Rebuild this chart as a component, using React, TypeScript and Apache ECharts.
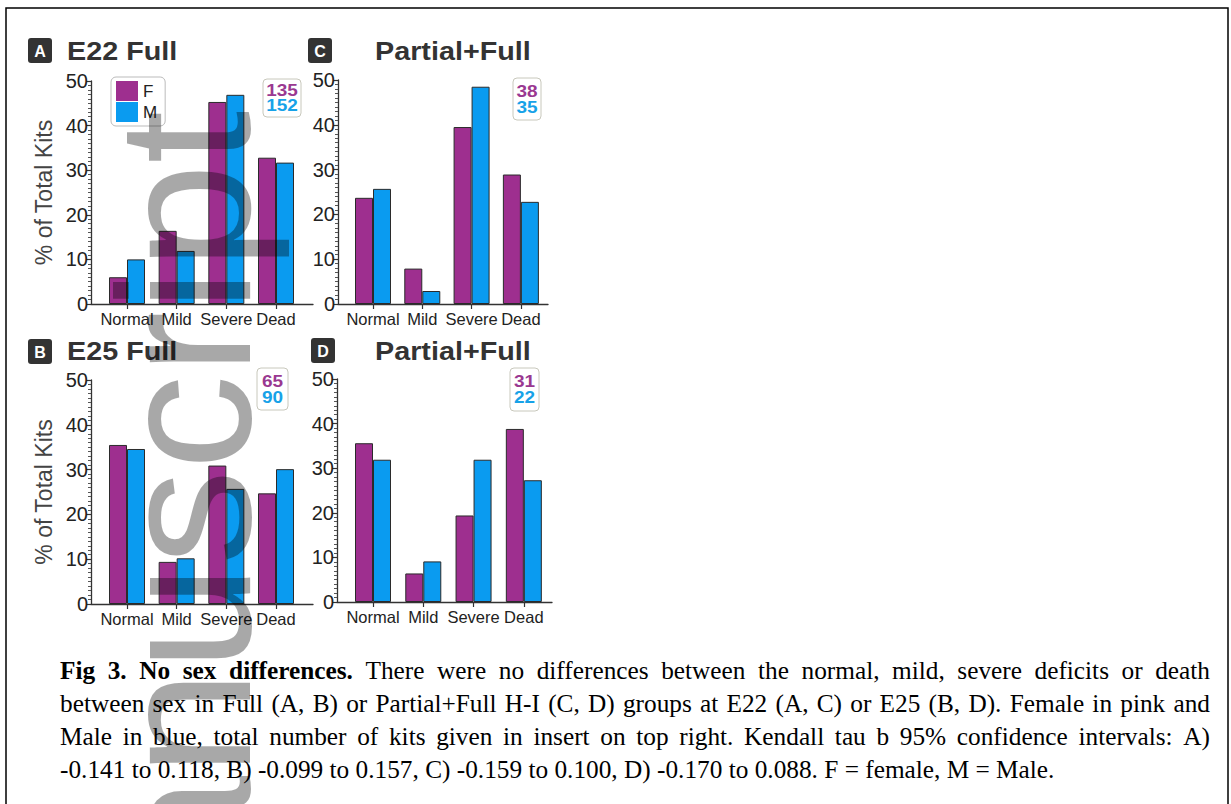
import React, { useEffect, useRef } from "react";
import * as echarts from "echarts";

// ---------- data ----------
const categories = ["Normal", "Mild", "Severe", "Dead"];
const femaleA = [6.0, 16.4, 45.3, 32.8];
const maleA = [10.0, 11.9, 46.9, 31.7];
const femaleB = [35.5, 9.4, 30.9, 24.7];
const maleB = [34.6, 10.2, 25.7, 30.1];
const femaleC = [23.7, 7.9, 39.5, 28.9];
const maleC = [25.7, 2.9, 48.5, 22.8];
const femaleD = [35.6, 6.4, 19.4, 38.8];
const maleD = [31.9, 9.1, 31.9, 27.3];
const femaleTotals = [135, 65, 38, 31]; // A, B, C, D
const maleTotals = [152, 90, 35, 22];
const panelLetters = ["A", "B", "C", "D"];
const panelTitles = ["E22 Full", "E25 Full", "Partial+Full", "Partial+Full"];
const yAxisName = "% of Total Kits";
const seriesNames = ["F", "M"];

const captionLines: Array<Array<[string, boolean]>> = [
  [
    ["Fig 3. No sex differences.", true],
    ["There were no differences between the normal, mild, severe deficits or death", false],
  ],
  [["between sex in Full (A, B) or Partial+Full H-I (C, D) groups at E22 (A, C) or E25 (B, D). Female in pink and", false]],
  [["Male in blue, total number of kits given in insert on top right. Kendall tau b 95% confidence intervals: A)", false]],
  [["-0.141 to 0.118, B) -0.099 to 0.157, C) -0.159 to 0.100, D) -0.170 to 0.088. F = female, M = Male.", false]],
];
const watermark = "Manuscript";

// ---------- styles / layout ----------
const PURPLE = "#9e2f8f";
const BLUE = "#0a9bf0";
const TXT_PURPLE = "#9a3891";
const TXT_BLUE = "#17a2e8";
const AXIS = "#333333";
const SANS = "Liberation Sans, Arial, sans-serif";
const SERIF = "Liberation Serif";
const CAP_SIZE = 25.3;

const layout = [
  { grid: { left: 91, top: 81, width: 222, height: 223 }, xmin: -0.725, xmax: 3.745, badge: [28, 38], title: [67, 51.5], box: [263, 79, 38, 38], yName: true },
  { grid: { left: 91, top: 380, width: 222, height: 224 }, xmin: -0.725, xmax: 3.745, badge: [28, 339], title: [67, 351.5], box: [257, 368, 31, 42], yName: true },
  { grid: { left: 338, top: 80, width: 210, height: 224 }, xmin: -0.71, xmax: 3.55, badge: [308, 38], title: [375, 51.5], box: [513, 78, 28, 42], yName: false },
  { grid: { left: 337, top: 379, width: 215, height: 223 }, xmin: -0.716, xmax: 3.56, badge: [311, 338], title: [375, 352], box: [510, 368, 29, 43], yName: false },
];

const femaleData = [femaleA, femaleB, femaleC, femaleD];
const maleData = [maleA, maleB, maleC, maleD];

function buildCaption(): any[] {
  const ctx = document.createElement("canvas").getContext("2d")!;
  const measure = (t: string, b: boolean) => {
    ctx.font = `${b ? "bold " : ""}${CAP_SIZE}px "${SERIF}"`;
    return ctx.measureText(t).width;
  };
  const left = 60;
  const right = 1210;
  const y0 = 670;
  const lh = 33;
  const out: any[] = [];
  captionLines.forEach((segs, li) => {
    const words: Array<{ t: string; b: boolean; w: number }> = [];
    segs.forEach(([s, b]) => s.split(" ").forEach((t) => t && words.push({ t, b, w: measure(t, b) })));
    const justify = li < captionLines.length - 1;
    const total = words.reduce((a, w) => a + w.w, 0);
    const gap = justify ? (right - left - total) / (words.length - 1) : measure(" ", false);
    let x = left;
    words.forEach((w) => {
      out.push({
        type: "text",
        x,
        y: y0 + li * lh,
        style: {
          text: w.t,
          fontFamily: SERIF,
          fontSize: CAP_SIZE,
          fontWeight: w.b ? "bold" : "normal",
          fill: "#000",
          align: "left",
          verticalAlign: "middle",
        },
      });
      x += w.w + gap;
    });
  });
  return out;
}

export default function App() {
  const ref = useRef<HTMLDivElement>(null);
  useEffect(() => {
    if (!ref.current) return;
    const chart = echarts.init(ref.current, null, { renderer: "svg" });

    const grids = layout.map((l) => ({ ...l.grid, containLabel: false, outerBoundsMode: "none" }));
    const xAxes = layout.map((l, i) => ({
      type: "value",
      gridIndex: i,
      min: l.xmin,
      max: l.xmax,
      splitLine: { show: false },
      axisLine: { show: true, onZero: false, lineStyle: { color: AXIS, width: 1.3 } },
      axisTick: { show: true, customValues: [0, 1, 2, 3], length: 5, lineStyle: { color: AXIS, width: 1.2 } },
      minorTick: { show: false },
      axisLabel: {
        customValues: [0, 1, 2, 3],
        formatter: (v: number) => categories[Math.round(v)] ?? "",
        fontSize: 16.5,
        fontFamily: SANS,
        color: "#222",
        margin: 6,
      },
    }));
    const yAxes = layout.map((l, i) => ({
      type: "value",
      gridIndex: i,
      min: 0,
      max: 50,
      interval: 10,
      splitLine: { show: false },
      axisLine: { show: true, onZero: false, lineStyle: { color: AXIS, width: 1.3 } },
      axisTick: { show: true, length: 5, lineStyle: { color: AXIS, width: 1.2 } },
      minorTick: { show: true, splitNumber: 10, length: 3, lineStyle: { color: "#555", width: 1 } },
      axisLabel: { fontSize: 20, fontFamily: SANS, color: "#222", margin: 3 },
      name: l.yName ? yAxisName : "",
      nameLocation: "middle",
      nameGap: 36,
      nameTextStyle: { fontSize: 23, fontFamily: SANS, color: "#444" },
    }));
    const series: any[] = [];
    layout.forEach((l, i) => {
      [femaleData[i], maleData[i]].forEach((vals, k) => {
        series.push({
          type: "bar",
          name: seriesNames[k],
          xAxisIndex: i,
          yAxisIndex: i,
          barWidth: 18,
          barGap: "0%",
          data: vals.map((v, j) => [j, v]),
          itemStyle: { color: k === 0 ? PURPLE : BLUE, borderColor: "#2b2b2b", borderWidth: 1 },
        });
      });
    });

    const graphic: any[] = [];
    layout.forEach((l, i) => {
      graphic.push({
        type: "rect",
        shape: { x: l.badge[0], y: l.badge[1], width: 24, height: 25, r: 3 },
        style: { fill: "#333" },
      });
      graphic.push({
        type: "text",
        x: l.badge[0] + 12,
        y: l.badge[1] + 13,
        style: { text: panelLetters[i], fontFamily: SANS, fontSize: 16, fontWeight: "bold", fill: "#fff", align: "center", verticalAlign: "middle" },
      });
      graphic.push({
        type: "text",
        x: l.title[0],
        y: l.title[1],
        scaleX: 1.15,
        style: { text: panelTitles[i], fontFamily: SANS, fontSize: 25, fontWeight: "bold", fill: "#333", align: "left", verticalAlign: "middle" },
      });
      const [bx, by, bw, bh] = l.box;
      graphic.push({
        type: "rect",
        shape: { x: bx, y: by, width: bw, height: bh, r: 4 },
        style: { fill: "#fff", stroke: "#c8c8bc", lineWidth: 1 },
      });
      graphic.push({
        type: "text",
        x: bx + bw / 2,
        y: by + bh * 0.31,
        scaleX: 1.15,
        style: { text: String(femaleTotals[i]), fontFamily: SANS, fontSize: 16.5, fontWeight: "bold", fill: TXT_PURPLE, align: "center", verticalAlign: "middle" },
      });
      graphic.push({
        type: "text",
        x: bx + bw / 2,
        y: by + bh * 0.69,
        scaleX: 1.15,
        style: { text: String(maleTotals[i]), fontFamily: SANS, fontSize: 16.5, fontWeight: "bold", fill: TXT_BLUE, align: "center", verticalAlign: "middle" },
      });
    });
    graphic.push(...buildCaption());
    graphic.push({
      type: "rect",
      shape: { x: 6, y: 8, width: 1222, height: 830 },
      style: { fill: "none", stroke: "#000", lineWidth: 1.5 },
      silent: true,
    });
    graphic.push({
      type: "text",
      x: 184,
      y: 1040,
      rotation: Math.PI / 2,
      z: 100,
      silent: true,
      style: { text: watermark, fontFamily: SANS, fontSize: 190, fill: "rgba(0,0,0,0.34)", align: "left", verticalAlign: "middle" },
    });

    chart.setOption({
      animation: false,
      backgroundColor: "#fff",
      grid: grids,
      xAxis: xAxes,
      yAxis: yAxes,
      legend: {
        data: seriesNames,
        left: 111,
        top: 77,
        orient: "vertical",
        padding: [4, 8, 4, 5],
        itemWidth: 22,
        itemHeight: 20,
        itemGap: 1,
        icon: "rect",
        borderColor: "#bbbbbb",
        borderWidth: 1,
        borderRadius: 5,
        backgroundColor: "#fff",
        itemStyle: { borderWidth: 0 },
        textStyle: { fontSize: 17, fontFamily: SANS, color: "#222" },
        selectedMode: false,
      },
      series,
      graphic,
    });
    return () => chart.dispose();
  }, []);
  return (
    <div
      ref={ref}
      style={{ position: "fixed", left: 0, top: 0, width: 1231, height: 804, background: "#fff" }}
    />
  );
}
